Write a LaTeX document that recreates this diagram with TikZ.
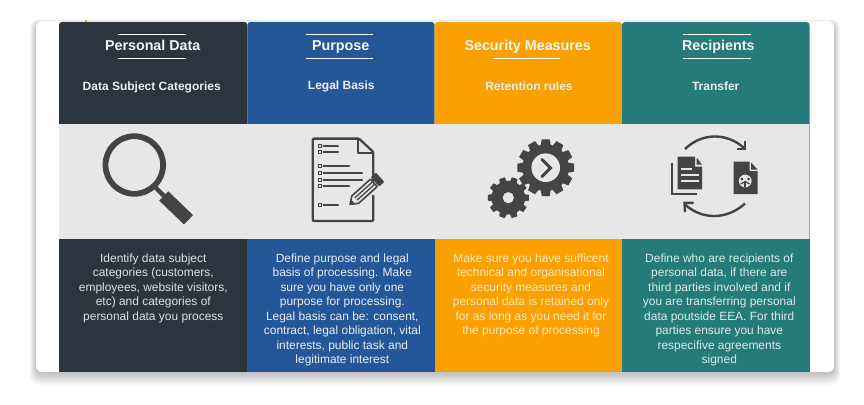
\documentclass[tikz,border=0pt]{standalone}
\usepackage{fontspec}
\setmainfont{Liberation Sans}
\usetikzlibrary{arrows.meta}
\definecolor{cdark}{HTML}{2C343D}
\definecolor{cblue}{HTML}{235797}
\definecolor{corange}{HTML}{FAA000}
\definecolor{cteal}{HTML}{257A7A}
\definecolor{cgrey}{HTML}{E7E7E7}
\definecolor{cicon}{HTML}{444444}
\tikzset{
  titletxt/.style={inner sep=0pt,anchor=base,font=\fontsize{14.3}{16}\selectfont\bfseries,text=white!96!black},
  subtxt/.style={inner sep=0pt,anchor=base,font=\fontsize{12}{14}\selectfont\bfseries,text=white!93!black},
  bodytxt/.style={inner sep=0pt,anchor=north,align=center,font=\fontsize{11.95}{14.5}\selectfont},
  bar/.style={draw=white,line width=1.3pt},
  iconline/.style={draw=cicon,line width=2.3pt},
}
\newcommand{\cogwheel}[4]{% x, y, radius, teeth
  \fill[cicon] (#1,#2) circle[radius=#3*0.82];
  \foreach \a in {1,...,#4}{
    \fill[cicon,shift={(#1,#2)},rotate=\a*360/#4]
      (#3*0.7,-#3*0.19) -- (#3,-#3*0.14) -- (#3,#3*0.14) -- (#3*0.7,#3*0.19) -- cycle;
  }
}
\newcommand{\headband}[3]{% left, right, colour
  \fill[#3] (#1,124) -- (#1,30) [rounded corners=3pt] -- (#1,22) -- (#2,22) [sharp corners] -- (#2,30) -- (#2,124) -- cycle;
}
\begin{document}
\begin{tikzpicture}[x=1pt,y=-1pt]
\useasboundingbox (0,0) rectangle (864,404);
\fill[white] (0,0) rectangle (864,404);
% soft shadow
\foreach \d in {12,11,...,0}{
  \fill[black,opacity=0.02,rounded corners=8pt]
    (36-\d*0.5,21-\d*0.3+2) rectangle (834+\d*0.5,372+\d+1);
}
% sheet
\fill[white,rounded corners=6pt] (36,21) rectangle (834,372);
% header bands
\headband{59}{247.4}{cdark}
\headband{247.4}{434.6}{cblue}
\headband{434.6}{622}{corange}
\headband{622}{809.5}{cteal}
\fill[corange!80!yellow] (84.6,20) rectangle (87,22);
% grey band
\fill[cgrey] (59,124) rectangle (809.5,239);
\draw[cteal!50!cgrey,line width=0.6pt] (809.5,124) -- (809.5,239);
% lower bands
\fill[cdark] (59,239) rectangle (247.4,372);
\fill[cblue] (247.4,239) rectangle (434.6,372);
\fill[corange] (434.6,239) rectangle (622,372);
\fill[cteal] (622,239) rectangle (809.5,372);
% title bars
\draw[bar] (118.3,34.7) -- (185.7,34.7) (118.3,58.3) -- (185.7,58.3);
\draw[bar] (305.7,34.7) -- (373.3,34.7) (305.7,58.3) -- (373.3,58.3);
\draw[bar] (492.7,58.3) -- (560,58.3);
\draw[bar] (683.3,34.7) -- (750.7,34.7) (683.3,58.3) -- (750.7,58.3);
% titles
\node[titletxt] (t1) at (152.7,51) {Personal Data};
\node[titletxt] (t2) at (340.7,51) {Purpose};
\node[titletxt] (t3) at (527.7,51) {Security Measures};
\node[titletxt] (t4) at (718.3,51) {Recipients};
\node[subtxt] (s1) at (151.7,90.3) {Data Subject Categories};
\node[subtxt] (s2) at (341.3,89.6) {Legal Basis};
\node[subtxt] (s3) at (529,90.3) {Retention rules};
\node[subtxt] (s4) at (715.7,90.3) {Transfer};
% body text
\node[bodytxt,text=white!88!black] (b1) at (153.3,253.6) {Identify data subject\\categories (customers,\\employees, website visitors,\\etc) and categories of\\personal data you process};
\node[bodytxt,text=white!90!cblue] (b2) at (342.3,253.6) {Define purpose and legal\\basis of processing. Make\\sure you have only one\\purpose for processing.\\Legal basis can be: consent,\\contract, legal obligation, vital\\interests, public task and\\legitimate interest};
\node[bodytxt,text=white!76!corange] (b3) at (531,253.6) {Make sure you have sufficent\\technical and organisational\\security measures and\\personal data is retained only\\for as long as you need it for\\the purpose of processing};
\node[bodytxt,text=white!85!cteal] (b4) at (719.3,253.6) {Define who are recipients of\\personal data, if there are\\third parties involved and if\\you are transferring personal\\data poutside EEA. For third\\parties ensure you have\\respecifive agreements\\signed};
% magnifier
\draw[cicon,line width=5.8pt] (134.3,165) circle[radius=28.8];
\draw[cicon,line width=4.5pt] (153,185) -- (166,198);
\draw[cicon,line width=13pt] (163.8,196) -- (188.5,219.8);
% document
\draw[iconline,line join=round,rounded corners=1pt]
  (373.3,181) -- (373.3,152) -- (359,138.6) -- (312.8,138.6) -- (312.8,221) -- (373.3,221) -- (373.3,195);
\draw[iconline,line width=2pt,line join=round] (358,138.6) -- (358,152.5) -- (373.3,152.5);
\foreach \yy/\xe in {146/338,152.3/338,166.3/349,173/362,179.8/362,186.3/349,204.6/338}{
  \draw[cicon,line width=2.2pt,line cap=round] (323.5,\yy) -- (\xe,\yy);
  \draw[cicon,line width=1pt,fill=cgrey] (318,\yy-1.6) rectangle (321,\yy+1.6);
}
% pencil
\begin{scope}[shift={(350,204.3)},rotate=42]
  \draw[cicon,line width=1.6pt,line join=round,fill=cgrey] (0,0) -- (7,-5) -- (32,-5) -- (32,5) -- (7,5) -- cycle;
  \fill[cicon] (0,0) -- (4,-2.8) -- (4,2.8) -- cycle;
  \draw[cicon,line width=1.3pt] (8,-1.6) -- (32,-1.6) (8,1.6) -- (32,1.6);
  \fill[cicon,rounded corners=1pt] (33.5,-6.3) rectangle (40.5,6.3);
\end{scope}
% gears
\cogwheel{545.7}{167.7}{28.4}{12}
\fill[cgrey] (545.7,167.7) circle[radius=14.3];
\draw[cicon,line width=3pt,line cap=round,line join=miter] (542,159.5) -- (550.5,168) -- (542,176.5);
\cogwheel{508.3}{197.7}{20.5}{10}
\fill[cgrey] (508.3,197.7) circle[radius=5.6];
% transfer arrows
\draw[cicon,line width=2.4pt] (685,149) .. controls (702,132.5) and (727,132.5) .. (744,148);
\draw[cicon,line width=2.4pt,line join=miter] (745.2,140.5) -- (745.2,149.2) -- (736.5,149.2);
\draw[cicon,line width=2.4pt] (745,203.5) .. controls (727,220) and (702,220) .. (685,204.5);
\draw[cicon,line width=2.4pt,line join=miter] (685,212) -- (684.5,202.8) -- (693.5,202.8);
% left documents
\draw[cicon,line width=2.2pt,line join=miter] (672.2,162.5) -- (672.2,194.3) -- (696.5,194.3);
\fill[cicon] (677.5,156.5) -- (695,156.5) -- (695,166.5) -- (702,166.5) -- (702,189.3) -- (677.5,189.3) -- cycle;
\fill[cicon] (696.5,157.5) -- (696.5,164.5) -- (702,164.5) -- cycle;
\foreach \yy/\xe in {169/692,175/699,181/699}{
  \fill[cgrey] (680.5,\yy-1) rectangle (\xe,\yy+1);
}
% right document
\fill[cicon] (733.5,161.5) -- (749.5,161.5) -- (749.5,171) -- (757.7,171) -- (757.7,194) -- (733.5,194) -- cycle;
\fill[cicon] (751,162.5) -- (751,169.5) -- (757.5,169.5) -- cycle;
\fill[cgrey] (745.2,181) circle[radius=6.4];
\fill[cicon] (741.9,179) circle[radius=1.5] (748.5,179) circle[radius=1.5];
\draw[cicon,line width=1.5pt] (745.2,180.5) -- (745.2,187) ;
\draw[cicon,line width=1.2pt] (740.8,184) -- (745.2,181.5) -- (749.6,184);
\end{tikzpicture}
\end{document}
